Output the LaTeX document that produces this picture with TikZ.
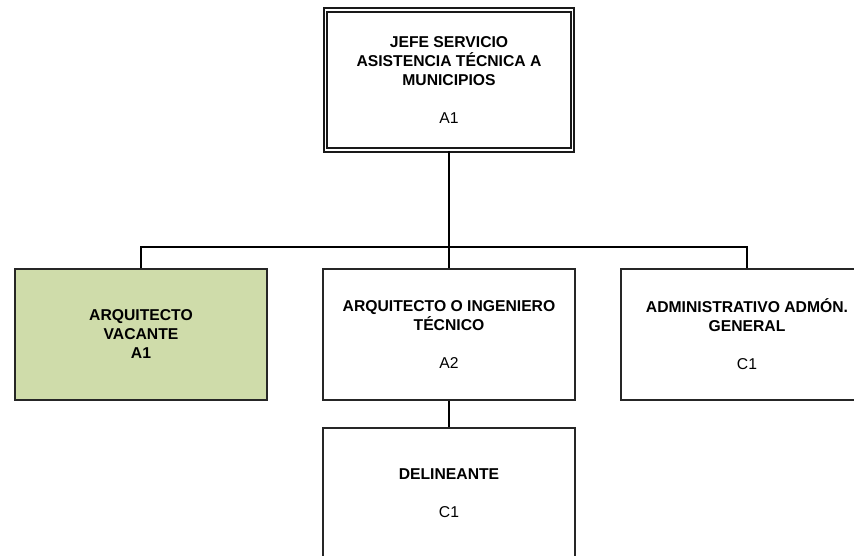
\documentclass[tikz,border=0pt]{standalone}
\usepackage{fontspec}
\setmainfont{Liberation Sans}
\definecolor{vacgreen}{HTML}{CFDCAA}
\begin{document}
\begin{tikzpicture}[x=1pt,y=-1pt,
  box/.style={draw=black!85, line width=1.4pt, rectangle, inner sep=0pt, align=center,
    minimum width=252pt, minimum height=131pt,
    font=\fontsize{15.7}{19}\selectfont\bfseries},
  topbox/.style={draw=black!90, line width=1.9pt, double, double distance=1.8pt, rectangle,
    inner sep=0pt, align=center, minimum width=247pt, minimum height=140pt,
    font=\fontsize{15.7}{19}\selectfont\bfseries},
  conn/.style={draw=black, line width=1.4pt}]
\clip (0,0) rectangle (854,555);
\fill[white] (0,0) rectangle (854,555);
\node[topbox] (top) at (449,80) {JEFE SERVICIO\\ASISTENCIA TÉCNICA A\\MUNICIPIOS\\[19pt]{\mdseries A1}};
\node[box, fill=vacgreen] (left) at (141,334.5) {ARQUITECTO\\VACANTE\\A1};
\node[box] (mid) at (449,334.5) {ARQUITECTO O INGENIERO\\TÉCNICO\\[19pt]{\mdseries A2}};
\node[box] (right) at (747,334.5) {ADMINISTRATIVO ADMÓN.\\GENERAL\\[19pt]{\mdseries C1}};
\node[box, minimum height=130pt] (bot) at (449,493) {DELINEANTE\\[19pt]{\mdseries C1}};
\coordinate (bus) at (449,247);
\draw[conn] (top.south) -- (mid.north);
\draw[conn] (left.north) -- (left.north |- bus) -- (right.north |- bus) -- (right.north);
\draw[conn] (mid.south) -- (bot.north);
\end{tikzpicture}
\end{document}
